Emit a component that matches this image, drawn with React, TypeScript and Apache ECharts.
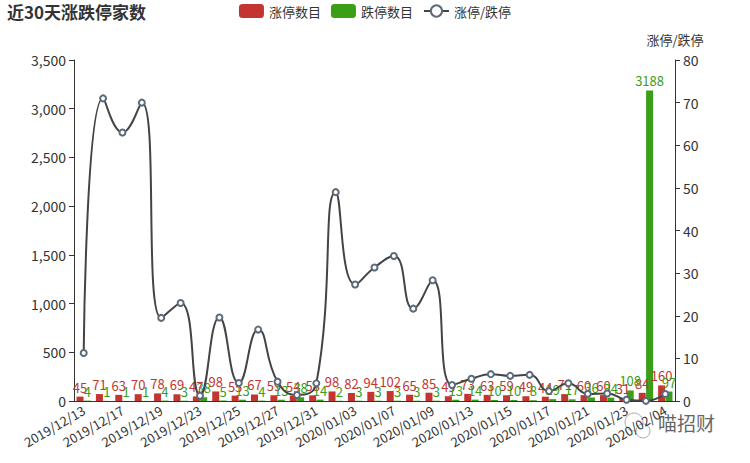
import React, { useEffect, useRef } from "react";
import * as echarts from "echarts";

const categories = [
  "2019/12/13", "2019/12/16", "2019/12/17", "2019/12/18", "2019/12/19", "2019/12/20",
  "2019/12/23", "2019/12/24", "2019/12/25", "2019/12/26", "2019/12/27", "2019/12/30",
  "2019/12/31", "2020/01/02", "2020/01/03", "2020/01/06", "2020/01/07", "2020/01/08",
  "2020/01/09", "2020/01/10", "2020/01/13", "2020/01/14", "2020/01/15", "2020/01/16",
  "2020/01/17", "2020/01/20", "2020/01/21", "2020/01/22", "2020/01/23", "2020/02/03",
  "2020/02/04",
];

const limitUp = [
  45, 71, 63, 70, 78, 69, 47, 98, 55, 67, 59, 54, 58, 98, 82, 94, 102, 65, 85, 49,
  73, 63, 59, 49, 44, 71, 60, 60, 31, 84, 160,
];

const limitDown = [
  4, 1, 1, 1, 4, 3, 38, 5, 13, 4, 13, 38, 14, 2, 3, 3, 3, 3, 3, 13, 14, 10, 10, 8,
  19, 17, 36, 34, 108, 3188, 97,
];

const ratio = [
  11.25, 71, 63, 70, 19.5, 23, 1.24, 19.6, 4.23, 16.75, 4.54, 1.42, 4.14, 49, 27.33,
  31.33, 34, 21.67, 28.33, 3.77, 5.21, 6.3, 5.9, 6.13, 2.32, 4.18, 1.67, 1.76, 0.29,
  0.03, 1.65,
];

const RED = "#c23531";
const GREEN = "#3a9e17";
const FONT = "'Noto Sans CJK SC', 'Noto Sans', sans-serif";

export default function App() {
  const ref = useRef<HTMLDivElement>(null);
  useEffect(() => {
    if (!ref.current) return;
    document.body.style.margin = "0";
    const chart = echarts.init(ref.current, undefined, { renderer: "svg" });
    chart.setOption({
      animation: false,
      textStyle: { fontFamily: FONT },
      title: {
        text: "近30天涨跌停家数",
        left: 2,
        top: -2,
        textStyle: { fontSize: 17, fontWeight: "bold", color: "#333", fontFamily: FONT },
      },
      legend: {
        top: -1,
        left: "center",
        itemWidth: 25,
        itemHeight: 14,
        itemGap: 10,
        textStyle: { fontSize: 13, color: "#333" },
        data: [
          { name: "涨停数目", icon: "roundRect" },
          { name: "跌停数目", icon: "roundRect" },
          { name: "涨停/跌停" },
        ],
      },
      grid: { left: 74, right: 75, top: 60, bottom: 62 },
      xAxis: {
        type: "category",
        data: categories,
        axisLine: { lineStyle: { color: "#333" } },
        axisTick: { interval: 1 },
        axisLabel: { interval: 1, rotate: 30, fontSize: 13, color: "#333", margin: 8 },
      },
      yAxis: [
        {
          type: "value",
          min: 0,
          max: 3500,
          interval: 500,
          axisLine: { show: true, lineStyle: { color: "#333" } },
          axisTick: { show: true },
          splitLine: { show: false },
          axisLabel: {
            fontSize: 14,
            color: "#333",
            formatter: (v: number) => v.toLocaleString("en-US"),
          },
        },
        {
          type: "value",
          name: "涨停/跌停",
          nameTextStyle: { fontSize: 13, color: "#333" },
          nameGap: 14,
          min: 0,
          max: 80,
          interval: 10,
          position: "right",
          axisLine: { show: true, lineStyle: { color: "#333" } },
          axisTick: { show: true },
          splitLine: { show: false },
          axisLabel: { fontSize: 14, color: "#333" },
        },
      ],
      series: [
        {
          name: "涨停数目",
          type: "bar",
          data: limitUp,
          barWidth: 7,
          barGap: "5%",
          itemStyle: { color: RED },
          label: { show: true, position: "top", color: RED, fontSize: 13, distance: 3 },
        },
        {
          name: "跌停数目",
          type: "bar",
          data: limitDown,
          barWidth: 7,
          barGap: "5%",
          itemStyle: { color: GREEN },
          label: { show: true, position: "top", color: GREEN, fontSize: 13, distance: 3 },
        },
        {
          name: "涨停/跌停",
          type: "line",
          yAxisIndex: 1,
          data: ratio,
          smooth: true,
          symbol: "emptyCircle",
          symbolSize: 6,
          lineStyle: { width: 2, color: "#444" },
          itemStyle: { color: "#5b6b7b", borderWidth: 1 },
          z: 3,
        },
      ],
      graphic: [
        {
          type: "circle",
          shape: { cx: 634, cy: 422, r: 9 },
          style: { fill: "none", stroke: "#aaa", lineWidth: 1 },
        },
        {
          type: "circle",
          shape: { cx: 643, cy: 431, r: 7 },
          style: { fill: "#fff", stroke: "#aaa", lineWidth: 1 },
        },
        {
          type: "text",
          left: 658,
          top: 413,
          style: { text: "喵招财", fontSize: 19, fill: "#666", fontFamily: FONT },
        },
      ],
    });
    return () => chart.dispose();
  }, []);
  return <div ref={ref} style={{ width: 750, height: 463 }} />;
}
